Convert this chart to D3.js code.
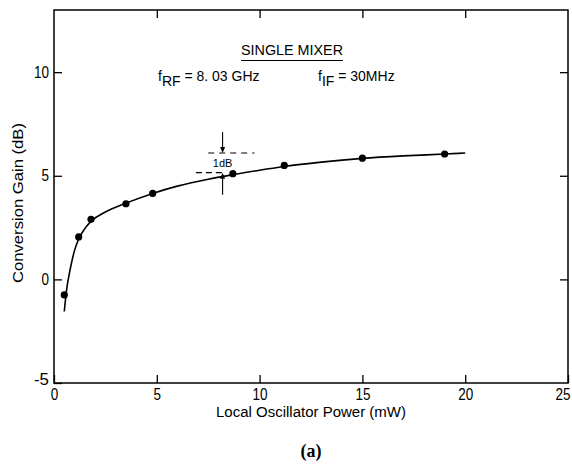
<!DOCTYPE html>
<html>
<head>
<meta charset="utf-8">
<script src="https://cdn.jsdelivr.net/npm/d3@7"></script>
<style>
  html, body { margin: 0; padding: 0; background: #fff; }
  svg { display: block; }
  .cond { font-family: "Liberation Sans Narrow", "Liberation Sans", Arial, sans-serif; }
</style>
</head>
<body>
<svg id="chart" width="572" height="468"></svg>
<script>
// ---- data ----
const xTicks = [0, 5, 10, 15, 20, 25];
const yTicks = [-5, 0, 5, 10];
const topTicks = [5, 10, 15, 20];
const rightTicks = [0, 5, 10];
const powerMW = [0.5, 1.2, 1.8, 3.5, 4.8, 8.7, 11.2, 15, 19];
const gainDB  = [-0.75, 2.05, 2.9, 3.65, 4.15, 5.1, 5.5, 5.85, 6.05];
// hand-drawn fitted curve
const curvePower = [0.5, 0.6, 0.8, 1.0, 1.2, 1.5, 1.8, 2.5, 3.5, 4.8, 6.0, 7.5, 8.7, 10, 11.2, 13, 15, 17, 19, 20];
const curveGain  = [-1.55, -0.6, 0.55, 1.4, 1.95, 2.45, 2.8, 3.25, 3.68, 4.15, 4.5, 4.83, 5.05, 5.27, 5.45, 5.66, 5.84, 5.96, 6.05, 6.1];
const dbMarkX = 8.2;
const dbLow = 5.15, dbHigh = 6.1;
const titleText = "SINGLE MIXER";
const xLabel = "Local Oscillator Power (mW)";
const yLabel = "Conversion Gain (dB)";

const svg = d3.select("#chart");
const m = { left: 54, top: 10, right: 4, bottom: 85 };
const W = 572 - m.left - m.right, H = 468 - m.top - m.bottom;
const x = d3.scaleLinear().domain([0, 25]).range([0, W]);
const y = d3.scaleLinear().domain([-5, 13]).range([H, 0]);
const g = svg.append("g").attr("transform", `translate(${m.left},${m.top})`);

// frame
g.append("rect").attr("width", W).attr("height", H)
  .attr("fill", "none").attr("stroke", "#000").attr("stroke-width", 1.5);

const tickFont = 16;
const fmt = d => d < 0 ? "-" + Math.abs(d) : String(d);

const ax = g.append("g").attr("transform", `translate(0,${H})`)
  .call(d3.axisBottom(x).tickValues(xTicks).tickSizeInner(-8).tickSizeOuter(0).tickPadding(6).tickFormat(fmt));
const ay = g.append("g")
  .call(d3.axisLeft(y).tickValues(yTicks).tickSizeInner(-8).tickSizeOuter(0).tickPadding(5).tickFormat(fmt));
const at = g.append("g")
  .call(d3.axisTop(x).tickValues(topTicks).tickSizeInner(-8).tickSizeOuter(0).tickFormat(""));
const ar = g.append("g").attr("transform", `translate(${W},0)`)
  .call(d3.axisRight(y).tickValues(rightTicks).tickSizeInner(-8).tickSizeOuter(0).tickFormat(""));
[ax, ay, at, ar].forEach(a => {
  a.select(".domain").remove();
  a.selectAll("line").attr("stroke", "#000").attr("stroke-width", 1.3);
});
[ax, ay].forEach(a => {
  a.selectAll("text").attr("class", "cond").attr("font-size", tickFont).attr("fill", "#000")
    .attr("textLength", d => fmt(d).length * 7.5).attr("lengthAdjust", "spacingAndGlyphs");
});
ax.selectAll(".tick").filter(d => d === 25).select("text").attr("text-anchor", "end").attr("x", 2);
ay.selectAll(".tick").filter(d => d === -5).select("text").attr("dy", "0.1em");

// curve
const line = d3.line().x((d, i) => x(curvePower[i])).y((d, i) => y(curveGain[i])).curve(d3.curveMonotoneX);
g.append("path").datum(curveGain).attr("d", line)
  .attr("fill", "none").attr("stroke", "#000").attr("stroke-width", 1.6);

// points
g.selectAll("circle.pt").data(powerMW).join("circle").attr("class", "pt")
  .attr("cx", d => x(d)).attr("cy", (d, i) => y(gainDB[i])).attr("r", 3.6).attr("fill", "#000");

// 1 dB annotation
const ann = g.append("g").attr("stroke", "#000").attr("stroke-width", 1.1);
ann.append("line").attr("x1", x(7.5)).attr("x2", x(9.75)).attr("y1", y(dbHigh)).attr("y2", y(dbHigh)).attr("stroke-dasharray", "6,5");
ann.append("line").attr("x1", x(6.9)).attr("x2", x(8.2)).attr("y1", y(dbLow)).attr("y2", y(dbLow)).attr("stroke-dasharray", "6,4");
ann.append("line").attr("x1", x(dbMarkX)).attr("x2", x(dbMarkX)).attr("y1", y(dbHigh) - 21).attr("y2", y(dbHigh) - 5);
ann.append("line").attr("x1", x(dbMarkX)).attr("x2", x(dbMarkX)).attr("y1", y(dbLow) + 22).attr("y2", y(dbLow) + 5);
const ah = g.append("g").attr("fill", "#000");
const tx = x(dbMarkX);
ah.append("path").attr("d", `M${tx - 2.5},${y(dbHigh) - 6} L${tx + 2.5},${y(dbHigh) - 6} L${tx},${y(dbHigh)} Z`);
ah.append("path").attr("d", `M${tx - 2.5},${y(dbLow) + 6} L${tx + 2.5},${y(dbLow) + 6} L${tx},${y(dbLow)} Z`);
g.append("text").attr("class", "cond").attr("x", tx).attr("y", (y(dbHigh) + y(dbLow)) / 2 + 4)
  .attr("text-anchor", "middle").attr("font-size", 11).text("1dB");

// title & conditions
svg.append("text").attr("class", "cond").attr("x", 241).attr("y", 55).attr("font-size", 14)
  .attr("textLength", 102).attr("lengthAdjust", "spacingAndGlyphs").text(titleText);
svg.append("line").attr("x1", 241).attr("x2", 343).attr("y1", 60.5).attr("y2", 60.5).attr("stroke", "#000").attr("stroke-width", 1);

const rf = svg.append("text").attr("class", "cond").attr("x", 158).attr("y", 81).attr("font-size", 14);
rf.append("tspan").text("f");
rf.append("tspan").attr("dy", 5).text("RF");
rf.append("tspan").attr("dy", -5).text(" = 8. 03 GHz");

const fi = svg.append("text").attr("class", "cond").attr("x", 318).attr("y", 81).attr("font-size", 14);
fi.append("tspan").text("f");
fi.append("tspan").attr("dy", 5).text("IF");
fi.append("tspan").attr("dy", -5).text("  = 30MHz");

// axis titles
svg.append("text").attr("class", "cond").attr("x", 311).attr("y", 417).attr("text-anchor", "middle")
  .attr("font-size", 14).attr("textLength", 190).attr("lengthAdjust", "spacingAndGlyphs").text(xLabel);
svg.append("text").attr("class", "cond").attr("transform", "translate(23,203) rotate(-90)")
  .attr("text-anchor", "middle").attr("font-size", 14)
  .attr("textLength", 160).attr("lengthAdjust", "spacingAndGlyphs").text(yLabel);

// caption
svg.append("text").attr("x", 311).attr("y", 457).attr("text-anchor", "middle")
  .attr("font-family", "Liberation Serif, serif").attr("font-weight", "bold").attr("font-size", 18).text("(a)");
</script>
</body>
</html>
